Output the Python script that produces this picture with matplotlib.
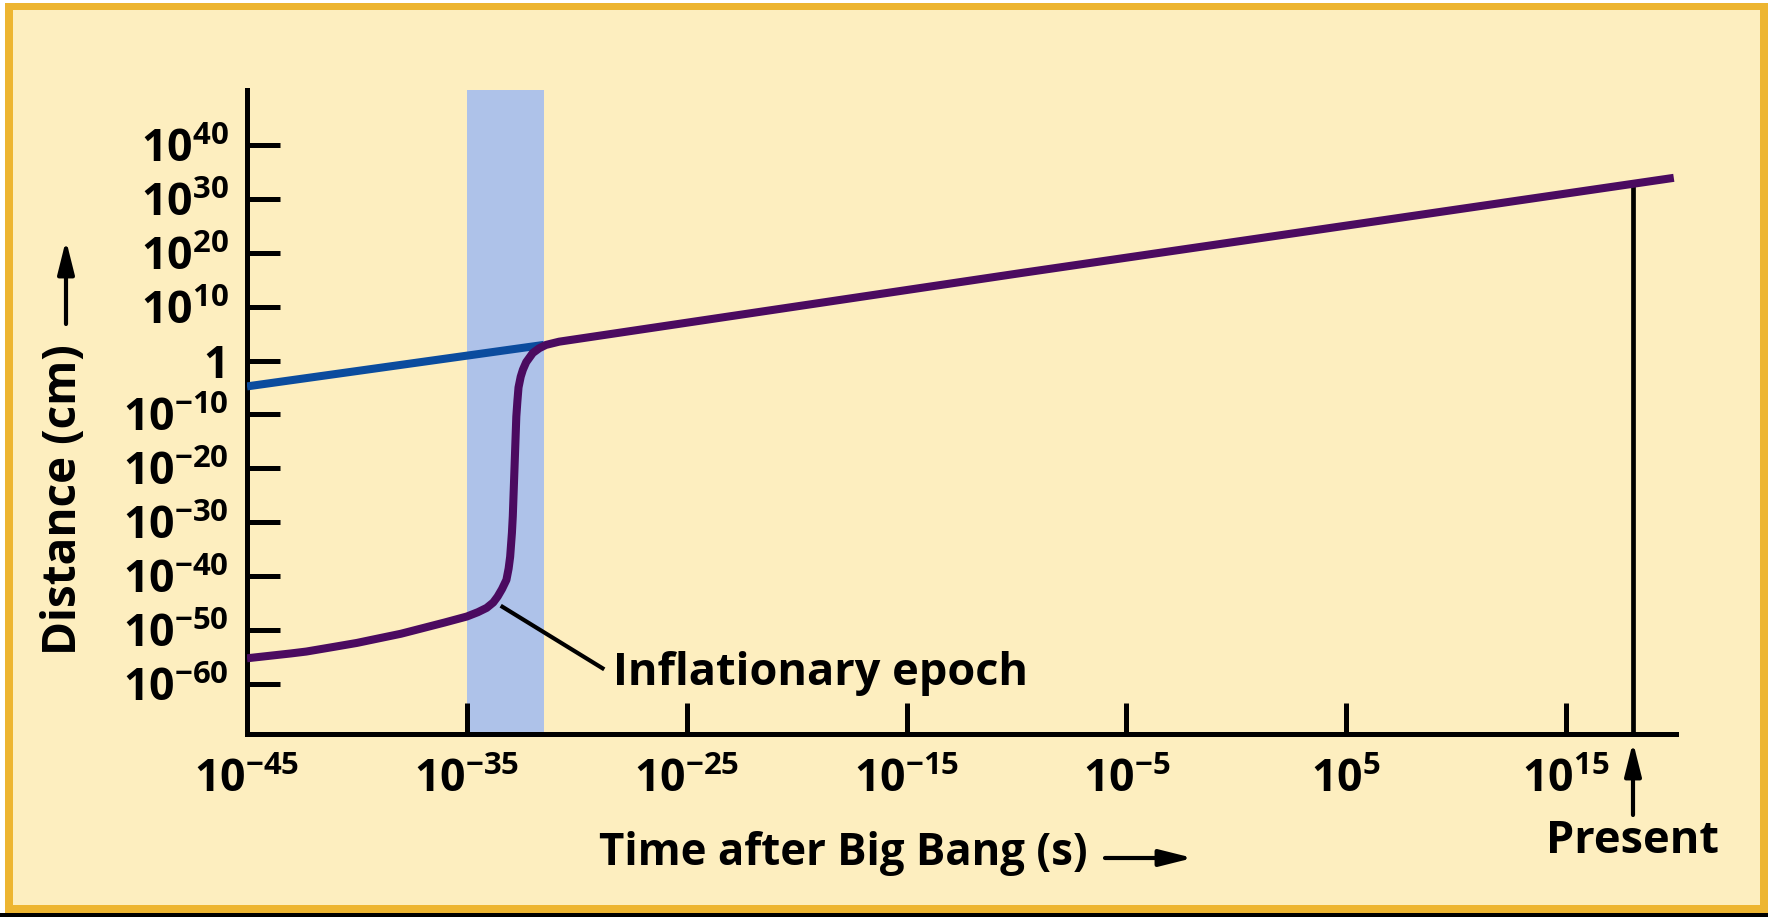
"""
Scale of the universe vs time after the Big Bang, with the inflationary epoch
"""

import numpy as np
import matplotlib
matplotlib.use("Agg")
import matplotlib.pyplot as plt
from matplotlib.patches import Rectangle

# values (log10 of seconds / centimetres)
blue_log_t = [-45.0, -31.5]
blue_log_d = [-4.8, 2.9]

purple_log_t = [-45.0, -44.0, -43.0, -42.3, -41.0, -40.0, -39.3, -38.0, -37.0,
                -36.0, -35.0, -34.5, -34.1, -33.8, -33.6, -33.4, -33.2, -33.1,
                -33.03, -32.95, -32.91, -32.83, -32.75, -32.7, -32.65, -32.55,
                -32.45, -32.3, -32.0, -31.7, -31.4, -30.8, -9.85, 19.9]
purple_log_d = [-55.25, -54.8, -54.35, -54.0, -53.1, -52.4, -51.8, -50.7, -49.65,
                -48.6, -47.5, -46.7, -45.9, -44.9, -43.8, -42.4, -40.7, -38.6,
                -36.4, -32.0, -28.9, -19.7, -10.4, -7.5, -5.0, -3.0,
                -1.7, -0.3, 1.4, 2.3, 2.9, 3.5, 16.2, 33.9]

inflation_log_t = [-35.0, -31.5]
present_log_t = 18.05
present_log_d = 32.6

x_tick_exp = [-45, -35, -25, -15, -5, 5, 15]
x_tick_labels = [r"$10^{-45}$", r"$10^{-35}$", r"$10^{-25}$", r"$10^{-15}$",
                 r"$10^{-5}$", r"$10^{5}$", r"$10^{15}$"]
y_tick_exp = [-60, -50, -40, -30, -20, -10, 0, 10, 20, 30, 40]
y_tick_labels = [r"$10^{-60}$", r"$10^{-50}$", r"$10^{-40}$", r"$10^{-30}$",
                 r"$10^{-20}$", r"$10^{-10}$", "1", r"$10^{10}$", r"$10^{20}$",
                 r"$10^{30}$", r"$10^{40}$"]

CREAM = "#FDEEBF"
GOLD = "#EDB531"
BAND = "#AEC2E9"
PURPLE = "#4B0B60"
BLUE = "#0B4C9E"

plt.rcParams["font.family"] = ["Open Sans", "DejaVu Sans"]
plt.rcParams["font.weight"] = "bold"
plt.rcParams["mathtext.fontset"] = "custom"
plt.rcParams["mathtext.rm"] = "Open Sans:bold"
plt.rcParams["mathtext.it"] = "Open Sans:bold"
plt.rcParams["mathtext.bf"] = "Open Sans:bold"
plt.rcParams["mathtext.sf"] = "Open Sans:bold"
plt.rcParams["mathtext.default"] = "rm"
plt.rcParams["mathtext.fallback"] = "stixsans"

W, H = 1772, 917


def fx(px):
    return px / W


def fy(py):
    # image pixel rows (from the top) to figure fraction
    return 1 - py / H


fig = plt.figure(figsize=(W / 100, H / 100), dpi=100, facecolor="white")

# frame: gold border, cream inside, dark rule at the bottom
fig.patches.append(Rectangle((fx(5), fy(913)), fx(1768 - 5), (913 - 3) / H,
                             transform=fig.transFigure, facecolor=GOLD,
                             edgecolor="none", zorder=-3))
fig.patches.append(Rectangle((fx(13), fy(905)), fx(1760 - 13), (905 - 10) / H,
                             transform=fig.transFigure, facecolor=CREAM,
                             edgecolor="none", zorder=-2))
fig.patches.append(Rectangle((0, 0), fx(1768), 4 / H,
                             transform=fig.transFigure, facecolor="black",
                             edgecolor="none", zorder=-2))

ax = fig.add_axes([fx(247), fy(734), fx(1676 - 247), (734 - 90) / H])
ax.set_zorder(1)
ax.set_facecolor("none")
ax.set_xscale("log")
ax.set_yscale("log")
ax.set_xlim(1e-45, 1e20)
ax.set_ylim(10 ** -69.3, 10 ** 50.2)

ax.axvspan(10 ** inflation_log_t[0], 10 ** inflation_log_t[1],
           color=BAND, lw=0, zorder=1)

ax.plot(10 ** np.array(blue_log_t), 10 ** np.array(blue_log_d),
        color=BLUE, lw=5.8, solid_capstyle="butt", zorder=3)
ax.plot(10 ** np.array(purple_log_t), 10 ** np.array(purple_log_d),
        color=PURPLE, lw=5.8, solid_joinstyle="round", solid_capstyle="butt",
        zorder=4)

# present day marker
ax.plot([10 ** present_log_t, 10 ** present_log_t],
        [10 ** -69.3, 10 ** present_log_d], color="black", lw=3.4, zorder=3)

# leader line for the inflationary epoch
ax.plot([10 ** -33.38, 10 ** -28.83], [10 ** -45.7, 10 ** -57.1],
        color="black", lw=3, zorder=3)
ax.text(10 ** -28.33, 10 ** -60.17, "Inflationary epoch", fontsize=32.5,
        fontweight="bold", ha="left", va="baseline")

for side in ["top", "right"]:
    ax.spines[side].set_visible(False)
for side in ["left", "bottom"]:
    ax.spines[side].set_linewidth(3.6)

ax.set_xticks([10.0 ** e for e in x_tick_exp], labels=x_tick_labels)
ax.set_yticks([10.0 ** e for e in y_tick_exp], labels=y_tick_labels)
ax.minorticks_off()
ax.tick_params(axis="both", direction="in", width=3.6, labelsize=32)
ax.tick_params(axis="x", length=22, pad=17)
ax.tick_params(axis="y", length=24, pad=13)

# axis titles with their arrows
fig.text(fx(599), fy(865), "Time after Big Bang (s)", fontsize=31.5,
         fontweight="bold", ha="left", va="baseline")
fig.text(fx(76), fy(655), "Distance (cm)", fontsize=33, fontweight="bold",
         rotation=90, rotation_mode="anchor", ha="left", va="baseline")
fig.text(fx(1632), fy(853), "Present", fontsize=32.5, fontweight="bold",
         ha="center", va="baseline")

arrow = dict(arrowstyle="-|>,head_length=1.0,head_width=0.25", lw=3,
             color="black", mutation_scale=20, shrinkA=0, shrinkB=0)
fig_arrows = [((1105, 858), (1193, 858)),
              ((66, 324), (66, 240)),
              ((1633, 815), (1633, 742))]
for start, end in fig_arrows:
    ax.annotate("", xy=(fx(end[0]), fy(end[1])),
                xytext=(fx(start[0]), fy(start[1])),
                xycoords="figure fraction", textcoords="figure fraction",
                arrowprops=arrow, annotation_clip=False)

fig.savefig("out.png", dpi=100, facecolor=fig.get_facecolor())
